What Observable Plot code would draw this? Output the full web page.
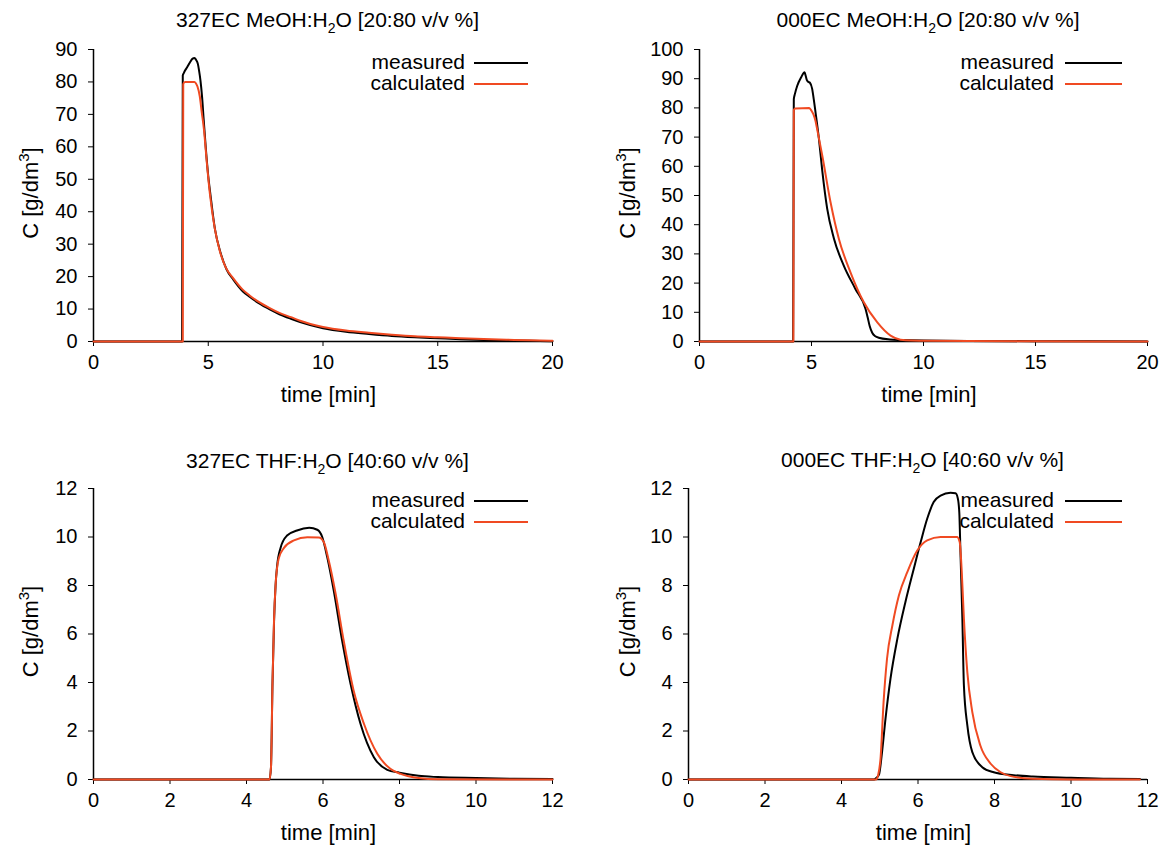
<!DOCTYPE html>
<html><head><meta charset="utf-8">
<script src="https://cdn.jsdelivr.net/npm/d3@7"></script>
<script src="https://cdn.jsdelivr.net/npm/@observablehq/plot@0.6"></script>
<style>
body{margin:0;background:#fff;font-family:"Liberation Sans",Arial,sans-serif;}
#wrap{position:relative;width:1166px;height:849px;background:#fff;}
.panel{position:absolute;}
</style></head><body><div id="wrap"></div>
<script>
// ---- Panel 1: 327EC MeOH:H2O [20:80] ----
const meoh327MeasT = [0, 3.5, 3.86, 3.89, 3.94, 3.99, 4.08, 4.2, 4.32, 4.4, 4.47, 4.55, 4.6, 4.66, 4.73, 4.8, 4.9, 5.0, 5.1, 5.29, 5.53, 5.8, 6.1, 6.5, 6.8, 7.2, 7.7, 8.1, 8.6, 9, 10, 11, 12, 13, 14, 15, 16, 17, 18, 19, 20];
const meoh327MeasC = [0, 0, 0, 82, 82.8, 83.5, 84.5, 86, 87.2, 87.4, 86.8, 85.5, 83.5, 80.5, 75.5, 68.5, 59, 51, 45, 34.7, 27.5, 22.2, 19, 15.5, 13.8, 11.8, 9.8, 8.4, 7.0, 6.0, 4.1, 3.0, 2.3, 1.7, 1.3, 1.0, 0.7, 0.5, 0.35, 0.2, 0.1];
const meoh327CalcT = [0, 3.5, 3.89, 3.91, 3.96, 4.0, 4.4, 4.46, 4.53, 4.63, 4.72, 4.81, 4.94, 5.08, 5.28, 5.5, 5.75, 6.1, 6.5, 6.8, 7.2, 7.7, 8.1, 8.6, 9, 10, 11, 12, 13, 14, 15, 16, 17, 18, 19, 20];
const meoh327CalcC = [0, 0, 0, 79.3, 79.9, 80, 80, 79.6, 78.6, 75.6, 70.5, 65.5, 55, 45, 35, 28, 23, 19.4, 16, 14.2, 12.2, 10.2, 8.8, 7.5, 6.4, 4.5, 3.4, 2.7, 2.1, 1.6, 1.3, 1.0, 0.75, 0.55, 0.35, 0.2];

// ---- Panel 2: 000EC MeOH:H2O [20:80] ----
const meoh000MeasT = [0, 4.0, 4.18, 4.21, 4.26, 4.36, 4.54, 4.69, 4.74, 4.8, 4.86, 4.93, 5.03, 5.1, 5.18, 5.33, 5.48, 5.7, 6.0, 6.44, 6.96, 7.41, 7.5, 7.6, 7.71, 7.85, 8.0, 8.5, 9, 10, 12, 15, 20];
const meoh000MeasC = [0, 0, 0, 83, 84.8, 87.5, 90.5, 92.2, 91, 89.4, 88.9, 88.6, 86.5, 83, 78.5, 69.5, 58.5, 45.5, 35.3, 26, 18, 11.2, 8.5, 5.2, 3.0, 1.8, 1.3, 0.7, 0.5, 0.3, 0.2, 0.1, 0];
const meoh000CalcT = [0, 4.0, 4.19, 4.21, 4.28, 4.9, 5.0, 5.1, 5.18, 5.25, 5.48, 5.85, 6.22, 6.74, 7.33, 7.93, 8.53, 8.97, 9.5, 10, 12, 15, 20];
const meoh000CalcC = [0, 0, 0, 79.3, 79.8, 80, 79, 77.5, 75.5, 72.8, 63.7, 47.7, 35.2, 23.7, 13.5, 6.6, 2.0, 0.6, 0.3, 0.25, 0.15, 0.08, 0];

// ---- Panel 3: 327EC THF:H2O [40:60] ----
const thf327MeasT = [0, 4.6, 4.64, 4.68, 4.72, 4.76, 4.8, 4.89, 5.06, 5.32, 5.64, 5.85, 5.98, 6.11, 6.28, 6.5, 6.72, 6.98, 7.33, 7.68, 8.0, 8.5, 9, 10, 11, 12];
const thf327MeasC = [0, 0, 0.5, 4.0, 6.5, 8.0, 8.8, 9.55, 10.06, 10.27, 10.38, 10.3, 10.0, 9.17, 7.8, 5.73, 3.95, 2.3, 0.92, 0.4, 0.28, 0.15, 0.1, 0.06, 0.03, 0.02];
const thf327CalcT = [0, 4.6, 4.64, 4.68, 4.72, 4.76, 4.84, 4.98, 5.24, 5.59, 5.89, 6.02, 6.15, 6.33, 6.54, 6.8, 7.07, 7.42, 7.76, 8.03, 8.5, 9, 12];
const thf327CalcC = [0, 0, 0.5, 4.0, 6.6, 8.0, 9.1, 9.55, 9.86, 9.99, 9.98, 9.79, 9.03, 7.66, 5.73, 3.67, 2.3, 1.06, 0.44, 0.23, 0.06, 0.01, 0];

// ---- Panel 4: 000EC THF:H2O [40:60] ----
const thf000MeasT = [0, 4.85, 4.9, 4.98, 5.06, 5.15, 5.28, 5.46, 5.67, 5.89, 6.07, 6.24, 6.41, 6.59, 6.85, 6.98, 7.04, 7.08, 7.11, 7.16, 7.2, 7.29, 7.42, 7.68, 7.98, 8.5, 9, 10, 11, 11.8];
const thf000MeasC = [0, 0, 0.05, 0.2, 1.13, 2.5, 4.15, 5.8, 7.31, 8.69, 9.79, 10.75, 11.44, 11.71, 11.82, 11.8, 11.6, 11.0, 9.37, 6.63, 3.88, 2.23, 1.13, 0.51, 0.3, 0.18, 0.12, 0.07, 0.03, 0.02];
const thf000CalcT = [0, 4.9, 4.96, 5.02, 5.1, 5.19, 5.33, 5.5, 5.72, 5.98, 6.24, 6.59, 7.02, 7.09, 7.14, 7.2, 7.29, 7.42, 7.63, 7.9, 8.16, 8.42, 9, 10, 11.8];
const thf000CalcC = [0, 0, 0.2, 0.85, 3.19, 4.98, 6.35, 7.59, 8.55, 9.44, 9.86, 10.0, 10.0, 9.79, 8.69, 6.63, 4.42, 2.78, 1.4, 0.65, 0.3, 0.14, 0.03, 0, 0];

// ---- Text ----
const titles = [
  ["327EC MeOH:H", "2", "O [20:80 v/v %]"],
  ["000EC MeOH:H", "2", "O [20:80 v/v %]"],
  ["327EC THF:H", "2", "O [40:60 v/v %]"],
  ["000EC THF:H", "2", "O [40:60 v/v %]"]
];
const seriesNames = ["measured", "calculated"];
const seriesColors = ["#000000", "#f04a22"];
const xLabel = "time [min]";
const yLabelParts = ["C [g/dm", "3", "]"];
const xTicksMeoh = [0, 5, 10, 15, 20];
const xTicksThf = [0, 2, 4, 6, 8, 10, 12];
const yTicksP1 = [0, 10, 20, 30, 40, 50, 60, 70, 80, 90];
const yTicksP2 = [0, 10, 20, 30, 40, 50, 60, 70, 80, 90, 100];
const yTicksThf = [0, 2, 4, 6, 8, 10, 12];

const toRows = (t, c) => t.map((v, i) => ({t: v, c: c[i]}));

const panels = [
  {title: titles[0], left: 0, top: 0, w: 583, h: 425, mL: 93, mR: 31, mT: 49, mB: 84,
   xDom: [0, 20], xTicks: xTicksMeoh, yDom: [0, 90], yTicks: yTicksP1,
   meas: toRows(meoh327MeasT, meoh327MeasC), calc: toRows(meoh327CalcT, meoh327CalcC),
   titleY: 27, xLabelY: 402, yLabelX: 38, legTextX: 465, legLine: [474, 528], legRows: [62, 83]},
  {title: titles[1], left: 583, top: 0, w: 583, h: 425, mL: 116, mR: 19, mT: 49, mB: 84,
   xDom: [0, 20], xTicks: xTicksMeoh, yDom: [0, 100], yTicks: yTicksP2,
   meas: toRows(meoh000MeasT, meoh000MeasC), calc: toRows(meoh000CalcT, meoh000CalcC),
   titleY: 27, xLabelY: 402, yLabelX: 52, legTextX: 471, legLine: [482, 539], legRows: [62, 83]},
  {title: titles[2], left: 0, top: 425, w: 583, h: 424, mL: 93, mR: 31, mT: 63, mB: 70,
   xDom: [0, 12], xTicks: xTicksThf, yDom: [0, 12], yTicks: yTicksThf,
   meas: toRows(thf327MeasT, thf327MeasC), calc: toRows(thf327CalcT, thf327CalcC),
   titleY: 43, xLabelY: 415, yLabelX: 38, legTextX: 465, legLine: [474, 528], legRows: [75, 96]},
  {title: titles[3], left: 583, top: 425, w: 583, h: 424, mL: 105, mR: 19, mT: 63, mB: 70,
   xDom: [0, 12], xTicks: xTicksThf, yDom: [0, 12], yTicks: yTicksThf,
   meas: toRows(thf000MeasT, thf000MeasC), calc: toRows(thf000CalcT, thf000CalcC),
   titleY: 42, xLabelY: 415, yLabelX: 52, legTextX: 471, legLine: [482, 539], legRows: [75, 96]}
];

const FONT = '"Liberation Sans", Arial, Helvetica, sans-serif';
const wrap = document.getElementById("wrap");

panels.forEach(p => {
  const chart = Plot.plot({
    width: p.w, height: p.h,
    marginLeft: p.mL, marginRight: p.mR, marginTop: p.mT, marginBottom: p.mB,
    x: {domain: p.xDom},
    y: {domain: p.yDom},
    style: {fontFamily: FONT, fontSize: "20px", color: "#000", background: "#fff", overflow: "visible"},
    marks: [
      Plot.axisX({ticks: p.xTicks, tickSize: 5, tickPadding: 8, label: null, tickFormat: d => String(d)}),
      Plot.axisY({ticks: p.yTicks, tickSize: 5, tickPadding: 11, label: null, tickFormat: d => String(d)}),
      Plot.ruleY([0], {stroke: "#000", strokeWidth: 1.5}),
      Plot.ruleX([0], {stroke: "#000", strokeWidth: 1.5}),
      Plot.line(p.meas, {x: "t", y: "c", stroke: seriesColors[0], strokeWidth: 2, curve: "monotone-x"}),
      Plot.line(p.calc, {x: "t", y: "c", stroke: seriesColors[1], strokeWidth: 2, curve: "monotone-x"})
    ]
  });
  const div = document.createElement("div");
  div.className = "panel";
  div.style.left = p.left + "px";
  div.style.top = p.top + "px";
  div.appendChild(chart);
  wrap.appendChild(div);

  const svg = d3.select(chart);
  const cx = p.mL + (p.w - p.mL - p.mR) / 2;
  const cy = p.mT + (p.h - p.mT - p.mB) / 2;

  // title
  const t = svg.append("text").attr("x", cx + 5).attr("y", p.titleY)
    .attr("text-anchor", "middle").attr("font-size", 21).attr("font-family", FONT).attr("fill", "#000");
  t.append("tspan").text(p.title[0]);
  t.append("tspan").attr("dy", 6).attr("font-size", 14).text(p.title[1]);
  t.append("tspan").attr("dy", -6).text(p.title[2]);

  // x label
  svg.append("text").attr("x", cx + 6).attr("y", p.xLabelY)
    .attr("text-anchor", "middle").attr("font-size", 22).attr("font-family", FONT).attr("fill", "#000")
    .text(xLabel);

  // y label
  const yl = svg.append("text")
    .attr("transform", `translate(${p.yLabelX},${cy - 2}) rotate(-90)`)
    .attr("text-anchor", "middle").attr("font-size", 22).attr("font-family", FONT).attr("fill", "#000");
  yl.append("tspan").text(yLabelParts[0]);
  yl.append("tspan").attr("dy", -9).attr("font-size", 15).text(yLabelParts[1]);
  yl.append("tspan").attr("dy", 9).text(yLabelParts[2]);

  // legend
  seriesNames.forEach((name, i) => {
    const y = p.legRows[i];
    svg.append("text").attr("x", p.legTextX).attr("y", y).attr("dy", "0.35em")
      .attr("text-anchor", "end").attr("font-size", 21).attr("font-family", FONT).attr("fill", "#000")
      .text(name);
    svg.append("line").attr("x1", p.legLine[0]).attr("x2", p.legLine[1])
      .attr("y1", y + 1).attr("y2", y + 1)
      .attr("stroke", seriesColors[i]).attr("stroke-width", 2);
  });
});
</script></body></html>
